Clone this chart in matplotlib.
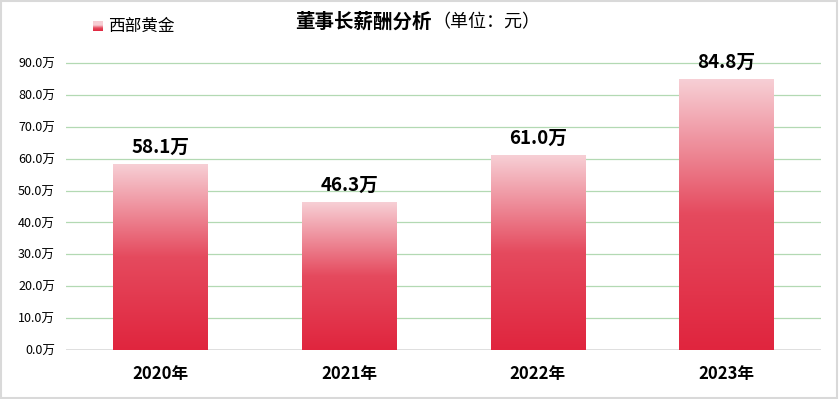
import numpy as np
import matplotlib
matplotlib.use("Agg")
import matplotlib.pyplot as plt
from matplotlib.colors import LinearSegmentedColormap
from matplotlib.patches import Rectangle

plt.rcParams["font.family"] = ["Noto Sans CJK SC", "DejaVu Sans"]

years = ["2020年", "2021年", "2022年", "2023年"]
salary = [58.1, 46.3, 61.0, 84.8]   # 万元
yticks = [0, 10, 20, 30, 40, 50, 60, 70, 80, 90]
series_name = "西部黄金"

cmap = LinearSegmentedColormap.from_list("redfade", ["#e0253e", "#e54a5e", "#f7cfd5"])

fig = plt.figure(figsize=(8.39, 3.99), dpi=100)
ax = fig.add_axes([66 / 839, 49 / 399, (821 - 66) / 839, (350 - 63) / 399 * 100 / 90])

x = np.arange(len(years))
bars = ax.bar(x, salary, width=0.5, color="none", zorder=3)

grad = np.linspace(0, 1, 256).reshape(-1, 1)
for b, v in zip(bars, salary):
    x0, w, h = b.get_x(), b.get_width(), b.get_height()
    ax.imshow(grad, cmap=cmap, aspect="auto", origin="lower",
              extent=[x0, x0 + w, 0, h], zorder=3, vmin=0, vmax=1)
    ax.text(x0 + w / 2, h + 2.5, "{:.1f}万".format(v), ha="center", va="bottom",
            fontsize=13.5, fontweight="bold", color="#000000", zorder=4)

ax.set_xlim(-0.5, len(years) - 0.5)
ax.set_ylim(0, 100)
ax.set_yticks(yticks)
ax.set_yticklabels(["{:.1f}万".format(t) for t in yticks], fontsize=9)
ax.set_xticks(x)
ax.set_xticklabels(years, fontsize=12, fontweight="bold")
ax.tick_params(axis="both", length=0)
ax.tick_params(axis="y", pad=8)
ax.tick_params(axis="x", pad=11)

for t in yticks[1:]:
    ax.axhline(t, color="#b3d9b3", linewidth=0.9, zorder=1)
ax.axhline(0, color="#d9d9d9", linewidth=1.2, zorder=2)

for s in ax.spines.values():
    s.set_visible(False)

# title and legend
fig.text(0.515, 1 - 22 / 399, "董事长薪酬分析", ha="right", va="center",
         fontsize=14, fontweight="bold")
fig.text(0.515, 1 - 22 / 399, "（单位：元）", ha="left", va="center", fontsize=13)

legend_sq = fig.add_axes([93 / 839, 1 - 31 / 399, 10 / 839, 10 / 399])
legend_sq.imshow(grad, cmap=cmap, aspect="auto", origin="lower", vmin=0, vmax=0.6)
legend_sq.axis("off")
fig.text(108 / 839, 1 - 26 / 399, series_name, ha="left", va="center", fontsize=12)

# light frame around the figure
fig.patches.append(Rectangle((0.001, 0.002), 0.997, 0.996, transform=fig.transFigure,
                             fill=False, edgecolor="#d9d9d9", linewidth=1.5))

fig.savefig("out.png", dpi=100)
